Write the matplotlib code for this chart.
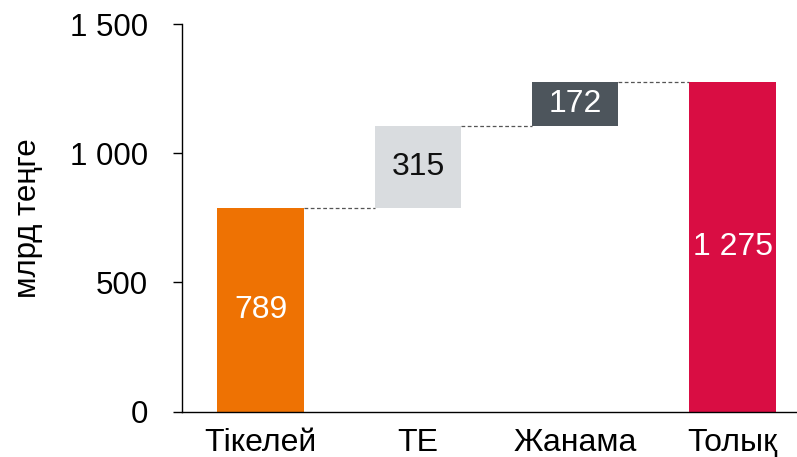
import matplotlib
matplotlib.use("Agg")
import matplotlib.pyplot as plt
from matplotlib.ticker import FuncFormatter

categories = ["Тікелей", "ТЕ", "Жанама", "Толық"]
values = [789, 315, 172, 1275]
bar_colors = ["#EE7203", "#D9DCDF", "#4D555C", "#D90D43"]
label_colors = ["white", "#111111", "white", "white"]
label_texts = ["789", "315", "172", "1 275"]
y_ticks = [0, 500, 1000, 1500]
y_label = "млрд теңге"

plt.rcParams['font.family'] = ['Liberation Sans', 'DejaVu Sans']

fig = plt.figure(figsize=(7.97, 4.57), dpi=100)
ax = fig.add_axes([182/797, (457-411.5)/457, 1 - 182/797, (411.5-24)/457])

# waterfall bottoms
bottoms = [0, values[0], values[0] + values[1], 0]
width = 0.55
x = list(range(len(categories)))
ax.bar(x, values, bottom=bottoms, width=width, color=bar_colors, zorder=2)

# connectors
tops = [b + v for b, v in zip(bottoms, values)]
for i in range(len(categories) - 1):
    ax.plot([x[i] + width/2, x[i+1] - width/2], [tops[i], tops[i]],
            linestyle=(0, (3, 2)), color="#555555", linewidth=0.9, zorder=1)

for i in range(len(categories)):
    ax.text(x[i], bottoms[i] + values[i]/2, label_texts[i], ha="center", va="center",
            color=label_colors[i], fontsize=23)

ax.set_xlim(-0.5, 3.41)
ax.set_ylim(0, 1500)
ax.set_yticks(y_ticks)
ax.yaxis.set_major_formatter(FuncFormatter(lambda v, p: f"{int(v):,}".replace(",", " ")))
ax.set_xticks(x)
ax.set_xticklabels(categories)
ax.tick_params(axis="x", length=0, labelsize=23, pad=12)
ax.tick_params(axis="y", length=6.5, width=1, labelsize=22.5, pad=18)
for s in ["top", "right"]:
    ax.spines[s].set_visible(False)
ax.spines["left"].set_linewidth(1)
ax.spines["bottom"].set_linewidth(1)
ax.set_ylabel(y_label, fontsize=22.5)
ax.yaxis.set_label_coords(-0.226, 0.5)

fig.savefig("out.png", dpi=100)
